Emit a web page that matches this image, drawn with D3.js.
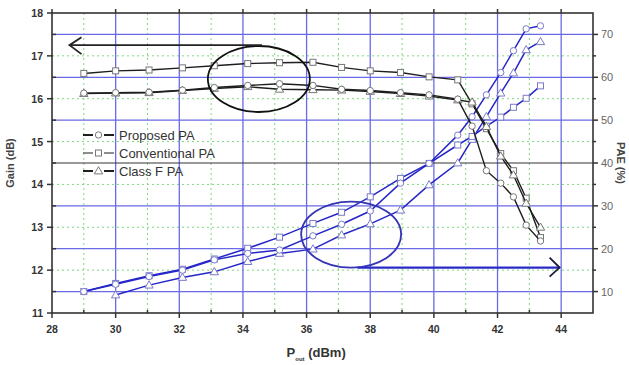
<!DOCTYPE html>
<html>
<head>
<meta charset="utf-8">
<script src="https://cdn.jsdelivr.net/npm/d3@7"></script>
<style>
  body { margin: 0; background: #fff; }
  svg { font-family: "Liberation Sans", Arial, sans-serif; }
</style>
</head>
<body>
<div class="module"></div>
<script>
// output power (dBm), shared by all curves
const pout = [29.0, 30.0, 31.05, 32.1, 33.1, 34.15, 35.15, 36.2, 37.1, 38.0, 38.95, 39.85, 40.75, 41.2, 41.65, 42.1, 42.5, 42.9, 43.35];

// gain (dB), left axis
const gainProposed = [16.13, 16.14, 16.15, 16.2, 16.26, 16.31, 16.35, 16.31, 16.22, 16.19, 16.14, 16.09, 15.99, 15.36, 14.32, 14.03, 13.71, 13.05, 12.68];
const gainConventional = [16.59, 16.65, 16.67, 16.72, 16.77, 16.82, 16.84, 16.85, 16.73, 16.65, 16.61, 16.51, 16.44, 15.88, 15.3, 14.72, 14.32, 13.68, 12.76];
const gainClassF = [16.12, 16.13, 16.14, 16.19, 16.24, 16.28, 16.22, 16.21, 16.2, 16.17, 16.12, 16.06, 15.97, 15.92, 15.35, 14.66, 14.22, 13.56, 13.0];

// PAE (%), right axis
const paeProposed = [10, 11.7, 13.5, 15.0, 17.4, 18.9, 19.7, 23.0, 25.7, 28.8, 35.3, 39.9, 46.5, 50.8, 55.9, 61.1, 66.2, 71.3, 72];
const paeConventional = [10, 11.9, 13.7, 15.2, 17.6, 20.1, 22.7, 25.9, 28.5, 32.1, 36.4, 39.9, 44.2, 46.2, 48.6, 50.7, 53.0, 55.1, 58.0];
const paeClassF = [null, 9.2, 11.5, 13.3, 14.6, 17.0, 18.9, 19.9, 23.2, 25.8, 29.0, 34.9, 40.0, 45.5, 50.8, 56.3, 61.0, 66.4, 68.3];

const seriesNames = ["Proposed PA", "Conventional PA", "Class F PA"];
const seriesMarks = ["circle", "square", "triangle"];

const xTicks = [28, 30, 32, 34, 36, 38, 40, 42, 44];
const gainTicks = [11, 12, 13, 14, 15, 16, 17, 18];
const paeTicks = [10, 20, 30, 40, 50, 60, 70];

const margin = {top: 13, right: 36, bottom: 52, left: 52},
    width = 629 - margin.left - margin.right,
    height = 365 - margin.top - margin.bottom;

const svg = d3.select(".module")
  .append("svg")
    .attr("width", 629)
    .attr("height", 365)
  .append("g")
    .attr("transform", "translate(" + margin.left + "," + margin.top + ")");

const x = d3.scaleLinear().domain([28, 45]).range([0, width]);
const yG = d3.scaleLinear().domain([11, 18]).range([height, 0]);
const yP = d3.scaleLinear().domain([5, 75]).range([height, 0]);

// grid: green dotted at odd x / integer gain, blue solid at even x / PAE tens
const grid = svg.append("g");
grid.selectAll(".gv").data(d3.range(29, 45, 2)).enter().append("line")
  .attr("x1", d => x(d)).attr("x2", d => x(d)).attr("y1", 0).attr("y2", height)
  .attr("stroke", "#7fd67f").attr("stroke-width", 1).attr("stroke-dasharray", "2,3");
grid.selectAll(".gh").data(d3.range(12, 18)).enter().append("line")
  .attr("x1", 0).attr("x2", width).attr("y1", d => yG(d)).attr("y2", d => yG(d))
  .attr("stroke", "#7fd67f").attr("stroke-width", 1).attr("stroke-dasharray", "2,3");
grid.selectAll(".bv").data(d3.range(30, 45, 2)).enter().append("line")
  .attr("x1", d => x(d)).attr("x2", d => x(d)).attr("y1", 0).attr("y2", height)
  .attr("stroke", "#6a6ae6").attr("stroke-width", 1.3);
grid.selectAll(".bh").data(paeTicks).enter().append("line")
  .attr("x1", 0).attr("x2", width).attr("y1", d => yP(d)).attr("y2", d => yP(d))
  .attr("stroke", d => d === 40 ? "#333" : "#6a6ae6").attr("stroke-width", d => d === 40 ? 1 : 1.3);

// frame and ticks
svg.append("rect").attr("width", width).attr("height", height)
  .attr("fill", "none").attr("stroke", "#333").attr("stroke-width", 1.6);

const ticks = svg.append("g").attr("stroke", "#333").attr("stroke-width", 1.5);
xTicks.forEach(v => {
  ticks.append("line").attr("x1", x(v)).attr("x2", x(v)).attr("y1", height).attr("y2", height + 5);
  ticks.append("line").attr("x1", x(v)).attr("x2", x(v)).attr("y1", 0).attr("y2", -4);
});
d3.range(29, 45, 2).forEach(v => {
  ticks.append("line").attr("x1", x(v)).attr("x2", x(v)).attr("y1", height).attr("y2", height - 3);
});
gainTicks.forEach(v => {
  ticks.append("line").attr("x1", -5).attr("x2", 1).attr("y1", yG(v)).attr("y2", yG(v));
});
d3.range(11.5, 18, 1).forEach(v => {
  ticks.append("line").attr("x1", 0).attr("x2", 4).attr("y1", yG(v)).attr("y2", yG(v));
});
paeTicks.forEach(v => {
  ticks.append("line").attr("x1", width).attr("x2", width + 5).attr("y1", yP(v)).attr("y2", yP(v));
});
d3.range(15, 75, 10).forEach(v => {
  ticks.append("line").attr("x1", width).attr("x2", width + 3).attr("y1", yP(v)).attr("y2", yP(v));
});

// tick labels
svg.selectAll(".xl").data(xTicks).enter().append("text")
  .attr("x", d => x(d)).attr("y", height + 20)
  .attr("text-anchor", "middle").attr("font-size", 10.5).attr("font-weight", "bold")
  .attr("fill", "#333").text(d => d);
svg.selectAll(".gl").data(gainTicks).enter().append("text")
  .attr("x", -9).attr("y", d => yG(d) + 4)
  .attr("text-anchor", "end").attr("font-size", 10.5).attr("font-weight", "bold")
  .attr("fill", "#333").text(d => d);
svg.selectAll(".pl").data(paeTicks).enter().append("text")
  .attr("x", width + 8).attr("y", d => yP(d) + 4)
  .attr("font-size", 11).attr("fill", "#666").text(d => d);

// axis titles
svg.append("text")
  .attr("transform", "translate(-38," + (height / 2) + ") rotate(-90)")
  .attr("text-anchor", "middle").attr("font-size", 11).attr("font-weight", "bold")
  .attr("fill", "#444").text("Gain (dB)");
svg.append("text")
  .attr("transform", "translate(" + (width + 24) + "," + (height / 2) + ") rotate(90)")
  .attr("text-anchor", "middle").attr("font-size", 11).attr("font-weight", "bold")
  .attr("fill", "#444").text("PAE (%)");
const xt = svg.append("text")
  .attr("x", x(36.3)).attr("y", height + 44)
  .attr("text-anchor", "middle").attr("font-weight", "bold").attr("fill", "#333");
xt.append("tspan").attr("font-size", 13).text("P");
xt.append("tspan").attr("font-size", 6).attr("dy", 4).text("out");
xt.append("tspan").attr("font-size", 13).attr("dy", -4).text(" (dBm)");

// markers
function drawMarker(g, kind, cx, cy, stroke) {
  if (kind === "circle") {
    g.append("circle").attr("cx", cx).attr("cy", cy).attr("r", 3.2)
      .attr("fill", "#fff").attr("stroke", stroke).attr("stroke-width", 1);
  } else if (kind === "square") {
    g.append("rect").attr("x", cx - 3).attr("y", cy - 3).attr("width", 6).attr("height", 6)
      .attr("fill", "#fff").attr("stroke", stroke).attr("stroke-width", 1);
  } else {
    g.append("path").attr("d", d3.symbol(d3.symbolTriangle, 30)())
      .attr("transform", "translate(" + cx + "," + (cy + 0.5) + ")")
      .attr("fill", "#fff").attr("stroke", stroke).attr("stroke-width", 1);
  }
}

function drawSeries(values, yScale, kind, lineColor, markColor, lw) {
  const pts = pout.map((p, i) => [p, values[i]]);
  const line = d3.line()
    .defined(d => d[1] !== null)
    .x(d => x(d[0])).y(d => yScale(d[1]));
  const g = svg.append("g");
  g.append("path").datum(pts).attr("d", line)
    .attr("fill", "none").attr("stroke", lineColor).attr("stroke-width", lw);
  pts.filter(d => d[1] !== null).forEach(d => drawMarker(g, kind, x(d[0]), yScale(d[1]), markColor));
}

const blue = "#2626c8", blueMark = "#7a7ac8";
const black = "#1e1e1e", blackMark = "#777";

drawSeries(paeClassF, yP, "triangle", blue, blueMark, 1.5);
drawSeries(paeConventional, yP, "square", blue, blueMark, 1.5);
drawSeries(paeProposed, yP, "circle", blue, blueMark, 1.5);

drawSeries(gainConventional, yG, "square", black, blackMark, 1.4);
drawSeries(gainClassF, yG, "triangle", black, blackMark, 1.4);
drawSeries(gainProposed, yG, "circle", black, blackMark, 1.4);

// annotations: ellipses with arrows pointing to each axis
svg.append("ellipse").attr("cx", x(34.5)).attr("cy", yG(16.46)).attr("rx", 51).attr("ry", 33)
  .attr("fill", "none").attr("stroke", "#111").attr("stroke-width", 1.8);
svg.append("path")
  .attr("d", "M" + x(34.6) + "," + yG(17.25) + "H" + x(28.55))
  .attr("fill", "none").attr("stroke", "#222").attr("stroke-width", 1.8);
svg.append("path")
  .attr("d", "M" + (x(28.55) + 12) + "," + (yG(17.25) - 8) + "L" + x(28.55) + "," + yG(17.25) + "L" + (x(28.55) + 12) + "," + (yG(17.25) + 9))
  .attr("fill", "none").attr("stroke", "#222").attr("stroke-width", 1.8);

svg.append("ellipse").attr("cx", x(37.4)).attr("cy", yP(23.3)).attr("rx", 50).attr("ry", 33)
  .attr("fill", "none").attr("stroke", "#3434b4").attr("stroke-width", 1.8);
svg.append("path")
  .attr("d", "M" + x(37.6) + "," + yP(15.6) + "H" + x(43.95))
  .attr("fill", "none").attr("stroke", "#2a2ac8").attr("stroke-width", 2.2);
svg.append("path")
  .attr("d", "M" + (x(43.95) - 10) + "," + (yP(15.6) - 10) + "L" + x(43.95) + "," + yP(15.6) + "L" + (x(43.95) - 10) + "," + (yP(15.6) + 9))
  .attr("fill", "none").attr("stroke", "#1a1a40").attr("stroke-width", 1.8);

// legend
const legend = svg.append("g").attr("transform", "translate(31,122)");
seriesNames.forEach((name, i) => {
  const row = legend.append("g").attr("transform", "translate(0," + (i * 18) + ")");
  row.append("line").attr("x1", 0).attr("x2", 31).attr("y1", 0).attr("y2", 0)
    .attr("stroke", black).attr("stroke-width", i === 1 ? 1.2 : 2.2).attr("stroke-dasharray", "10,11");
  drawMarker(row, seriesMarks[i], 15.5, 0, blackMark);
  row.append("text").attr("x", 36).attr("y", 5).attr("font-size", 13).attr("fill", "#333").text(name);
});
</script>
</body>
</html>
